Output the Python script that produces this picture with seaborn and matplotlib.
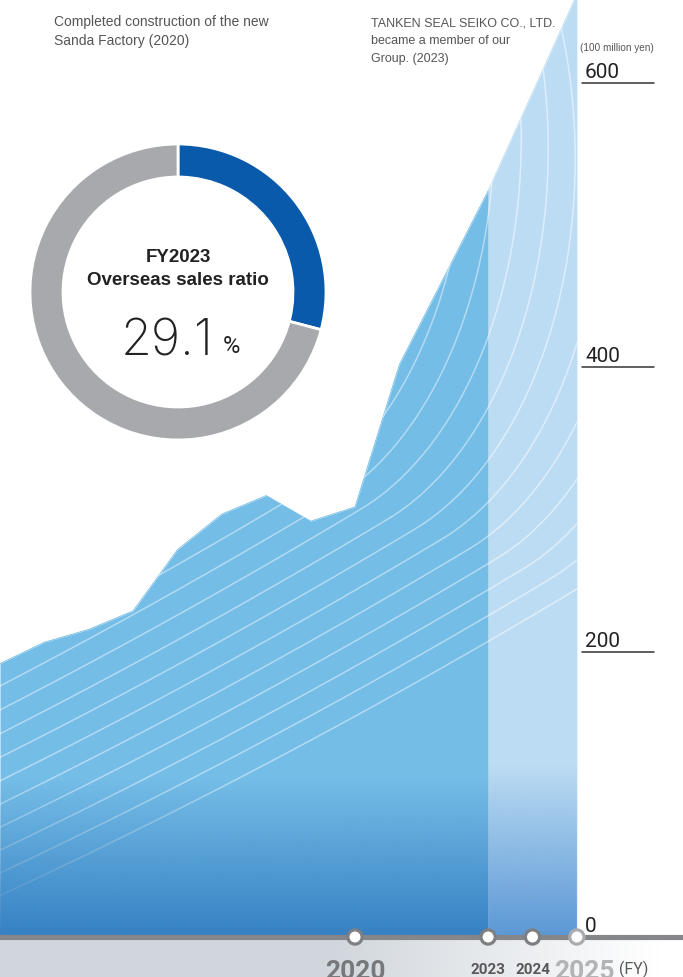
import numpy as np
import pandas as pd
import matplotlib
matplotlib.use("Agg")
import matplotlib.pyplot as plt
import matplotlib.transforms as mtransforms
from matplotlib.colors import to_rgb
import seaborn as sns

# ── Data ──────────────────────────────────────────────────────────────────────
YEARS = [2012, 2013, 2014, 2015, 2016, 2017, 2018, 2019, 2020, 2021, 2022, 2023]
SALES = [192, 207, 216, 229, 272, 297, 310, 292, 302, 402, 463, 524]
PLAN_YEARS = [2023, 2024, 2025]
PLAN_SALES = [524, 593, 662]
RATIO_NAMES = ["Overseas", "Domestic"]
RATIO_VALUES = [29.1, 70.9]
Y_TICKS = [0, 200, 400, 600]
MARK_YEARS = [2020, 2023, 2024, 2025]

# ── Style ─────────────────────────────────────────────────────────────────────
sns.set_style("white")
plt.rcParams["font.family"] = ["Liberation Sans", "DejaVu Sans"]

DARK_TOP, DARK_BOT = "#74bde7", "#3680c3"
LIGHT_TOP, LIGHT_BOT = "#bcdcf3", "#5b97d6"
BLUE, GRAY = "#0a5aab", "#a8a9ad"
AXIS_GRAY = "#85868a"
TXT = "#555555"

W, H = 683, 978
X_LEFT = 2012
PX_PER_YEAR = 44.375
ZERO_PX = 938
PX_PER_UNIT = 1.424


def px_x(p):
    return X_LEFT + p / PX_PER_YEAR


def px_y(p):
    return (ZERO_PX - p) / PX_PER_UNIT


fig = plt.figure(figsize=(W / 100, H / 100), dpi=100)
ax = fig.add_axes([0, 0, 1, 1])
pix = mtransforms.Affine2D().scale(1 / W, -1 / H).translate(0, 1) + fig.transFigure

df = pd.DataFrame({"year": YEARS, "sales": SALES})
plan = pd.DataFrame({"year": PLAN_YEARS, "sales": PLAN_SALES})

# ── Areas ─────────────────────────────────────────────────────────────────────
dark = ax.fill_between(df["year"], 0, df["sales"], color=DARK_TOP, lw=0, zorder=1)
light = ax.fill_between(plan["year"], 0, plan["sales"], color=LIGHT_TOP, lw=0, zorder=1)
sns.lineplot(data=df, x="year", y="sales", color=DARK_TOP, lw=0.6, ax=ax, zorder=1)
sns.lineplot(data=plan, x="year", y="sales", color=LIGHT_TOP, lw=0.6, ax=ax, zorder=1)
dark_path = dark.get_paths()[0]
light_path = light.get_paths()[0]

# decorative white swoosh lines (pixel space): gentle curve + elliptic bend,
# repeated with a small up-left shift
tq = np.linspace(0, 1, 200)
Q0, Q1, S = np.array([-200, 985]), np.array([195.5, 819]), np.array([577, 590])
lower = ((1 - tq) ** 2)[:, None] * Q0 + (2 * tq * (1 - tq))[:, None] * Q1 + (tq ** 2)[:, None] * S
ea, eb = 247, 395
phi0 = np.arctan(0.6 * ea / eb)
phi = np.linspace(phi0, np.radians(135), 240)
ex, ey = S[0] - ea * np.sin(phi0), S[1] - eb * np.cos(phi0)
bend = np.column_stack([ex + ea * np.sin(phi), ey + eb * np.cos(phi)])
base = np.vstack([lower, bend[1:]])
for k in range(0, 17):
    pts = base + k * np.array([-27, -10])
    for path, a in ((dark_path, 0.45), (light_path, 0.5)):
        ln, = ax.plot(pts[:, 0], pts[:, 1], transform=pix, color="white", lw=1.1, alpha=a, zorder=2)
        ln.set_clip_path(path, ax.transData)


# bottom darkening gradient
def fade_overlay(color, path, top_px):
    ramp = np.linspace(1, 0, 256)
    rgba = np.zeros((256, 1, 4))
    rgba[..., :3] = to_rgb(color)
    rgba[:, 0, 3] = ramp
    im = ax.imshow(rgba, extent=[px_x(0), px_x(W), 0, px_y(top_px)], origin="lower",
                   aspect="auto", zorder=3, interpolation="bilinear")
    im.set_clip_path(path, ax.transData)


fade_overlay(DARK_BOT, dark_path, 780)
fade_overlay(LIGHT_BOT, light_path, 765)

# bottom grey band
band = np.zeros((1, W, 4))
band[..., :3] = to_rgb("#d0d6dc")
band[0, :, 3] = np.clip((660 - np.arange(W)) / 330, 0, 1)
ax.imshow(band, extent=[px_x(0), px_x(W), px_y(H), px_y(941)], origin="lower",
          aspect="auto", zorder=0, interpolation="bilinear")

# axis line and year markers
ax.axhline(0, color=AXIS_GRAY, lw=3.7, zorder=4)
sns.scatterplot(x=MARK_YEARS, y=[0] * len(MARK_YEARS), s=105, color="white",
                edgecolor=["#7e7f82"] * 3 + ["#abacae"], linewidth=2.3, ax=ax, zorder=5, clip_on=False)

# ── Y tick labels with underlines ─────────────────────────────────────────────
for v in Y_TICKS:
    ax.text(px_x(585), v + 6 / PX_PER_UNIT, f"{v}", fontsize=15, family="Roboto",
            color="#222222", ha="left", va="baseline", zorder=6)
    if v > 0:
        ax.plot([px_x(582), px_x(654)], [v, v], color="#333333", lw=1.1, zorder=6)

fig.text(580, 51, "(100 million yen)", transform=pix, fontsize=7.2, color=TXT, va="baseline")

# ── Year labels ───────────────────────────────────────────────────────────────
ax.text(2020, px_y(979), "2020", fontsize=19, family="Roboto", weight="bold",
        color="#76787b", ha="center", va="baseline")
for y in (2023, 2024):
    ax.text(y, px_y(974), str(y), fontsize=11, family="Roboto", weight="bold",
            color="#58595b", ha="center", va="baseline")
ax.text(px_x(554), px_y(979), "2025", fontsize=19, family="Roboto", weight="bold",
        color="#b1b3b5", ha="left", va="baseline")
ax.text(px_x(619), px_y(974), "(FY)", fontsize=11.5, family="Roboto",
        color="#58595b", ha="left", va="baseline")

# ── Annotations ───────────────────────────────────────────────────────────────
for line, base_y in zip(["Completed construction of the new", "Sanda Factory (2020)"], [26, 45]):
    fig.text(54, base_y, line, transform=pix, fontsize=10, color=TXT, va="baseline")
for line, base_y in zip(["TANKEN SEAL SEIKO CO., LTD.", "became a member of our", "Group. (2023)"],
                        [26, 44, 62]):
    fig.text(371, base_y, line, transform=pix, fontsize=9, color=TXT, va="baseline")

ax.set_xlim(px_x(0), px_x(W))
ax.set_ylim(px_y(H), px_y(0))
ax.axis("off")

# ── Donut ─────────────────────────────────────────────────────────────────────
cx, cy, r = 178, 293, 148
dax = fig.add_axes([(cx - r) / W, 1 - (cy + r) / H, 2 * r / W, 2 * r / H])
dax.pie(RATIO_VALUES, colors=[BLUE, GRAY], startangle=90, counterclock=False, radius=1,
        wedgeprops=dict(width=33 / r, edgecolor="white", linewidth=2))
dax.set_xlim(-1, 1)
dax.set_ylim(-1, 1)
dax.axis("off")

fig.text(cx, 262, "FY2023", transform=pix, fontsize=13.5, weight="bold", color="#222222",
         ha="center", va="baseline")
fig.text(cx, 285, "Overseas sales ratio", transform=pix, fontsize=13.5, weight="bold",
         color="#222222", ha="center", va="baseline")
fig.text(121, 355, f"{RATIO_VALUES[0]}", transform=pix, fontsize=36,
         family=["Inter", "Roboto", "DejaVu Sans"], weight="light", color="#222222",
         ha="left", va="baseline")
fig.text(223, 353, "%", transform=pix, fontsize=17, family="Roboto", color="#222222",
         ha="left", va="baseline")

fig.savefig("out.png", dpi=100)
